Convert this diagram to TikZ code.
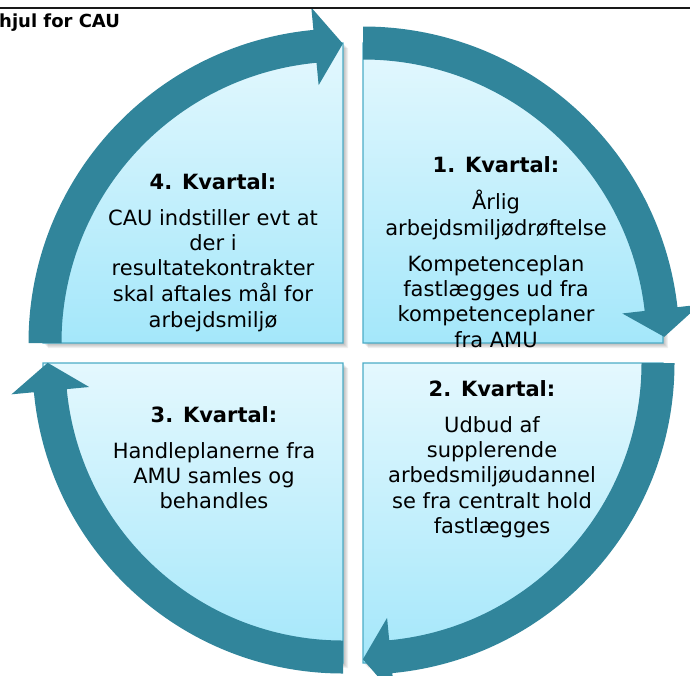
\documentclass[tikz,border=0pt]{standalone}
\usepackage{fontspec}
\setmainfont{DejaVu Sans}
\usetikzlibrary{calc}

\definecolor{bandcol}{RGB}{49,133,155}
\definecolor{boxtop}{RGB}{228,248,254}
\definecolor{boxbot}{RGB}{164,231,250}
\definecolor{boxline}{RGB}{75,172,198}

\tikzset{
  quarterbox/.style={draw=boxline, line width=1.3pt, top color=boxtop, bottom color=boxbot},
  quartershade/.style={fill=black, fill opacity=0.06},
  bandfill/.style={fill=bandcol},
  qtext/.style={anchor=base, inner sep=0pt, align=center,
                font=\fontsize{21}{25.4}\selectfont},
}

% quarter disc: #1 style, (#2,#3) inner corner, #4 direction of the first straight edge
\newcommand\quadbox[4]{%
  \path[#1] (#2,#3) -- ++(#4:300) arc[start angle=#4, end angle=#4-90, radius=300] -- cycle;}

% curved arrow band round a quarter: #1 corner, #2 mid radius, #3 tail angle, #4 angle of the head's base
\newcommand\wheelband[4]{%
  \pgfmathsetmacro\rout{#2+16.5}%
  \pgfmathsetmacro\rin{#2-16.5}%
  \pgfmathsetmacro\hout{#2+39}%
  \pgfmathsetmacro\hin{#2-39}%
  \pgfmathsetmacro\tdir{#4-90}%
  \fill[bandfill] ($(#1)+(#3:\rout)$) arc[start angle=#3, end angle=#4, radius=\rout]
    -- ($(#1)+(#4:\hout)$) -- ($(#1)+(#4:#2)+(\tdir:28)$) -- ($(#1)+(#4:\hin)$)
    -- ($(#1)+(#4:\rin)$) arc[start angle=#4, end angle=#3, radius=\rin] -- cycle;}

\begin{document}
\begin{tikzpicture}[x=1pt, y=1pt]
  \useasboundingbox (0,0) rectangle (690,-675);

  \coordinate (cTL) at (343,-343);
  \coordinate (cTR) at (363,-343);
  \coordinate (cBR) at (363,-363);
  \coordinate (cBL) at (343,-363);

  % soft shadows under the four quarters
  \foreach \k in {1,...,5}{
    \quadbox{quartershade, xshift=\k pt, yshift=-\k pt}{343}{-343}{180}
    \quadbox{quartershade, xshift=\k pt, yshift=-\k pt}{363}{-343}{90}
    \quadbox{quartershade, xshift=\k pt, yshift=-\k pt}{363}{-363}{0}
    \quadbox{quartershade, xshift=\k pt, yshift=-\k pt}{343}{-363}{-90}
  }

  % the four quarters
  \quadbox{quarterbox}{343}{-343}{180}
  \quadbox{quarterbox}{363}{-343}{90}
  \quadbox{quarterbox}{363}{-363}{0}
  \quadbox{quarterbox}{343}{-363}{-90}

  % arrows running clockwise round the wheel
  \wheelband{cTL}{298}{180}{95.4}
  \wheelband{cTR}{300}{90}{6.5}
  \wheelband{cBR}{295}{0}{-84.6}
  \wheelband{cBL}{294}{-90}{-174.6}

  % texts of the quarters
  \node[qtext] (q1) at (496,-172) {\begin{tabular}[t]{@{}c@{}}
    \textbf{1. Kvartal:}\\[10.6pt]
    Årlig\\
    arbejdsmiljødrøftelse\\[10.6pt]
    Kompetenceplan\\
    fastlægges ud fra\\
    kompetenceplaner\\
    fra AMU\end{tabular}};
  \node[qtext] (q2) at (492,-396) {\begin{tabular}[t]{@{}c@{}}
    \textbf{2. Kvartal:}\\[10.6pt]
    Udbud af\\
    supplerende\\
    arbedsmiljøudannel\\
    se fra centralt hold\\
    fastlægges\end{tabular}};
  \node[qtext] (q3) at (214,-422) {\begin{tabular}[t]{@{}c@{}}
    \textbf{3. Kvartal:}\\[10.6pt]
    Handleplanerne fra\\
    AMU samles og\\
    behandles\end{tabular}};
  \node[qtext] (q4) at (213,-189) {\begin{tabular}[t]{@{}c@{}}
    \textbf{4. Kvartal:}\\[10.6pt]
    CAU indstiller evt at\\
    der i\\
    resultatekontrakter\\
    skal aftales mål for\\
    arbejdsmiljø\end{tabular}};

  % page header
  \coordinate (ruleL) at (0,-8);
  \coordinate (ruleR) at (690,-8);
  \draw[line width=2pt, black!90] (ruleL) -- (ruleR);
  \node[anchor=base west, inner sep=0pt, font=\bfseries\fontsize{18}{21}\selectfont]
    (title) at (-1,-27) {hjul for CAU};
\end{tikzpicture}
\end{document}
